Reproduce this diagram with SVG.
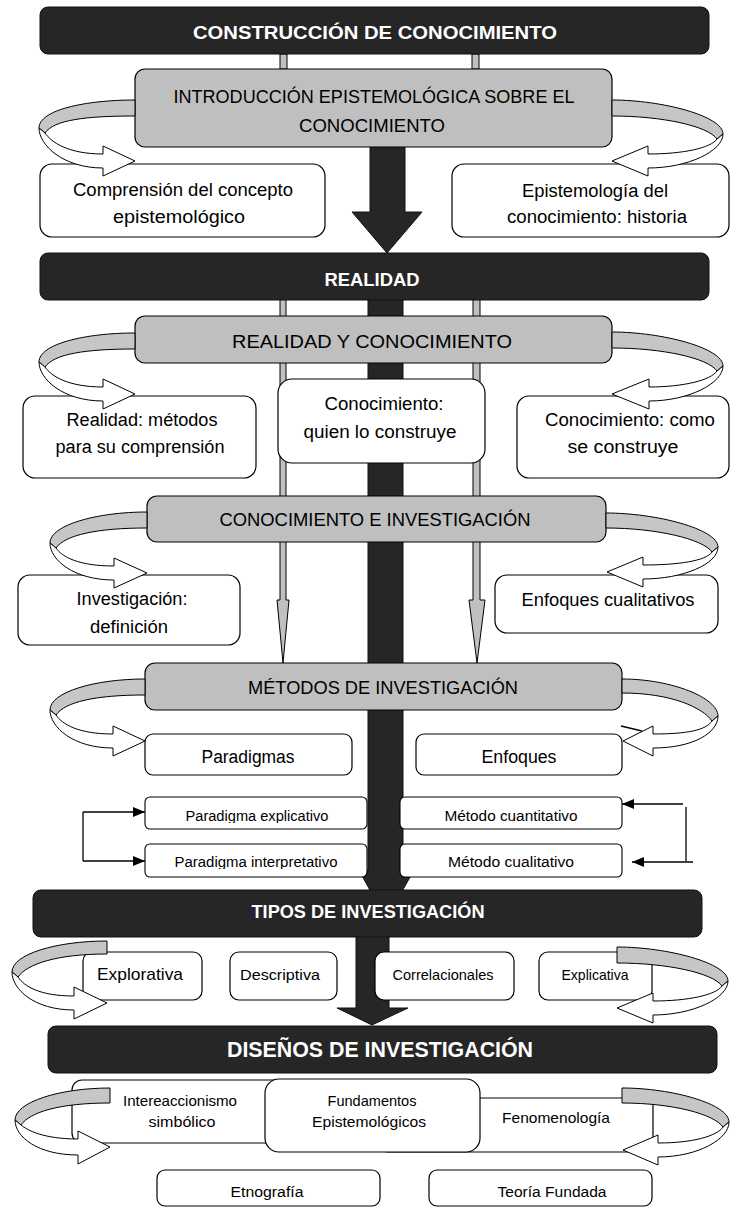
<svg xmlns="http://www.w3.org/2000/svg" width="730" height="1207" viewBox="0 0 730 1207">
<style>
.dark{fill:#262626;stroke:#111;stroke-width:1}
.gray{fill:#bfbfbf;stroke:#000;stroke-width:1.2}
.box{fill:#fff;stroke:#000;stroke-width:1.2}
.sbox{fill:#fff;stroke:#000;stroke-width:1.1}
.t{font-family:"Liberation Sans",Arial,sans-serif;fill:#000;text-anchor:middle}
.w{fill:#fff;font-weight:bold}
.rg{fill:#c6c6c6;stroke:#000;stroke-width:1}
.rw{fill:#fff;stroke:#000;stroke-width:1}
.thin{fill:#c0c0c0;stroke:#000;stroke-width:1}
.ln{stroke:#000;stroke-width:1.3;fill:none}
</style>
<defs>
<marker id="ah" markerUnits="userSpaceOnUse" markerWidth="12" markerHeight="10" refX="12" refY="5" orient="auto">
<path d="M0,0 L12,5 L0,10 Z" fill="#000"/>
</marker>
<clipPath id="c1"><rect x="145" y="797" width="222" height="26"/></clipPath>
<clipPath id="c2"><rect x="145" y="844" width="222" height="25"/></clipPath>
<clipPath id="c3"><rect x="400" y="797" width="222" height="26"/></clipPath>
<clipPath id="c4"><rect x="400" y="844" width="222" height="25"/></clipPath>
</defs>

<g id="connectors-back">
<rect class="thin" x="280" y="54" width="7" height="15"/>
<rect class="thin" x="472" y="54" width="7" height="15"/>
<polygon class="dark" points="370,140 405,140 405,212 422,212 387,253 352,212 370,212"/>
<polygon class="dark" points="368,295 403,295 403,870 414,870 386,920 359,870 368,870"/>
<polygon class="dark" points="356,930 389,930 389,1008 408,1008 372,1025 337,1008 356,1008"/>
<polygon class="thin" points="280,295 286,295 286,600 289,600 283,663 277,600 280,600"/>
<polygon class="thin" points="473,295 480,295 480,600 485,600 477,663 469,600 473,600"/>
</g>

<g id="n-construccion"><rect class="dark" x="40" y="7" width="669" height="47" rx="8"/>
<text class="t w" x="375" y="39" font-size="19" textLength="364" lengthAdjust="spacingAndGlyphs">CONSTRUCCIÓN DE CONOCIMIENTO</text></g>

<g id="n-intro"><rect class="gray" x="135" y="69" width="477" height="78" rx="10"/>
<text class="t" x="374" y="103" font-size="18" textLength="401" lengthAdjust="spacingAndGlyphs">INTRODUCCIÓN EPISTEMOLÓGICA SOBRE EL</text>
<text class="t" x="372" y="132" font-size="18" textLength="146" lengthAdjust="spacingAndGlyphs">CONOCIMIENTO</text></g>

<g id="n-comprension"><rect class="box" x="40" y="164" width="285" height="73" rx="12"/>
<text class="t" x="183" y="196" font-size="18" textLength="220" lengthAdjust="spacingAndGlyphs">Comprensión del concepto</text>
<text class="t" x="179" y="223" font-size="18" textLength="132" lengthAdjust="spacingAndGlyphs">epistemológico</text></g>

<g id="n-epistemologia"><rect class="box" x="452" y="164" width="277" height="73" rx="12"/>
<text class="t" x="595" y="197" font-size="18" textLength="146" lengthAdjust="spacingAndGlyphs">Epistemología del</text>
<text class="t" x="597" y="223" font-size="18" textLength="180" lengthAdjust="spacingAndGlyphs">conocimiento: historia</text></g>

<g id="n-realidad"><rect class="dark" x="40" y="253" width="669" height="47" rx="8"/>
<text class="t w" x="372" y="286" font-size="18" textLength="95" lengthAdjust="spacingAndGlyphs">REALIDAD</text></g>

<g id="n-realidad-conocimiento"><rect class="gray" x="135" y="316" width="477" height="47" rx="10"/>
<text class="t" x="372" y="348" font-size="18" textLength="280" lengthAdjust="spacingAndGlyphs">REALIDAD Y CONOCIMIENTO</text></g>

<g id="n-realidad-metodos"><rect class="box" x="23" y="396" width="233" height="82" rx="12"/>
<text class="t" x="142" y="426" font-size="18" textLength="151" lengthAdjust="spacingAndGlyphs">Realidad: métodos</text>
<text class="t" x="140" y="453" font-size="18" textLength="169" lengthAdjust="spacingAndGlyphs">para su comprensión</text></g>

<g id="n-conocimiento-quien"><rect class="box" x="278" y="379" width="207" height="84" rx="14"/>
<text class="t" x="384" y="410" font-size="18" textLength="119" lengthAdjust="spacingAndGlyphs">Conocimiento:</text>
<text class="t" x="380" y="438" font-size="18" textLength="153" lengthAdjust="spacingAndGlyphs">quien lo construye</text></g>

<g id="n-conocimiento-como"><rect class="box" x="517" y="396" width="212" height="82" rx="12"/>
<text class="t" x="630" y="426" font-size="18" textLength="170" lengthAdjust="spacingAndGlyphs">Conocimiento: como</text>
<text class="t" x="623" y="453" font-size="18" textLength="111" lengthAdjust="spacingAndGlyphs">se construye</text></g>

<g id="n-conocimiento-investigacion"><rect class="gray" x="147" y="496" width="459" height="46" rx="10"/>
<text class="t" x="375" y="526" font-size="18" textLength="311" lengthAdjust="spacingAndGlyphs">CONOCIMIENTO E INVESTIGACIÓN</text></g>

<g id="n-investigacion-definicion"><rect class="box" x="18" y="575" width="222" height="70" rx="12"/>
<text class="t" x="132" y="605" font-size="18" textLength="111" lengthAdjust="spacingAndGlyphs">Investigación:</text>
<text class="t" x="129" y="633" font-size="18" textLength="78" lengthAdjust="spacingAndGlyphs">definición</text></g>

<g id="n-enfoques-cualitativos"><rect class="box" x="495" y="575" width="223" height="58" rx="12"/>
<text class="t" x="608" y="606" font-size="18" textLength="173" lengthAdjust="spacingAndGlyphs">Enfoques cualitativos</text></g>

<g id="n-metodos"><rect class="gray" x="145" y="663" width="477" height="47" rx="10"/>
<text class="t" x="383" y="694" font-size="18" textLength="270" lengthAdjust="spacingAndGlyphs">MÉTODOS DE INVESTIGACIÓN</text></g>

<g id="n-paradigmas"><rect class="box" x="145" y="734" width="207" height="41" rx="8"/>
<text class="t" x="248" y="763" font-size="18" textLength="93" lengthAdjust="spacingAndGlyphs">Paradigmas</text></g>

<g id="n-enfoques"><rect class="box" x="416" y="734" width="206" height="41" rx="8"/>
<text class="t" x="519" y="763" font-size="18" textLength="75" lengthAdjust="spacingAndGlyphs">Enfoques</text></g>

<g id="n-paradigma-explicativo"><rect class="sbox" x="145" y="797" width="222" height="32" rx="5"/>
<text class="t" x="257" y="821" font-size="14" textLength="143" lengthAdjust="spacingAndGlyphs" clip-path="url(#c1)">Paradigma explicativo</text></g>

<g id="n-paradigma-interpretativo"><rect class="sbox" x="145" y="844" width="222" height="33" rx="5"/>
<text class="t" x="256" y="867" font-size="14" textLength="163" lengthAdjust="spacingAndGlyphs" clip-path="url(#c2)">Paradigma interpretativo</text></g>

<g id="n-metodo-cuantitativo"><rect class="sbox" x="400" y="797" width="222" height="32" rx="5"/>
<text class="t" x="511" y="821" font-size="14" textLength="133" lengthAdjust="spacingAndGlyphs" clip-path="url(#c3)">Método cuantitativo</text></g>

<g id="n-metodo-cualitativo"><rect class="sbox" x="400" y="844" width="222" height="33" rx="5"/>
<text class="t" x="511" y="867" font-size="14" textLength="126" lengthAdjust="spacingAndGlyphs" clip-path="url(#c4)">Método cualitativo</text></g>

<g id="n-tipos"><rect class="dark" x="33" y="890" width="669" height="47" rx="8"/>
<text class="t w" x="368" y="918" font-size="18" textLength="233" lengthAdjust="spacingAndGlyphs">TIPOS DE INVESTIGACIÓN</text></g>

<g id="n-explorativa"><rect class="box" x="83" y="952" width="119" height="48" rx="9"/>
<text class="t" x="140" y="980" font-size="17" textLength="86" lengthAdjust="spacingAndGlyphs">Explorativa</text></g>

<g id="n-descriptiva"><rect class="box" x="230" y="952" width="107" height="48" rx="9"/>
<text class="t" x="280" y="980" font-size="15.5" textLength="80" lengthAdjust="spacingAndGlyphs">Descriptiva</text></g>

<g id="n-correlacionales"><rect class="box" x="375" y="952" width="139" height="48" rx="9"/>
<text class="t" x="443" y="980" font-size="15" textLength="101" lengthAdjust="spacingAndGlyphs">Correlacionales</text></g>

<g id="n-explicativa"><rect class="box" x="539" y="952" width="113" height="48" rx="9"/>
<text class="t" x="595" y="980" font-size="14.5" textLength="67" lengthAdjust="spacingAndGlyphs">Explicativa</text></g>

<g id="n-disenos"><rect class="dark" x="48" y="1026" width="669" height="47" rx="8"/>
<text class="t w" x="380" y="1057" font-size="22" textLength="306" lengthAdjust="spacingAndGlyphs">DISEÑOS DE INVESTIGACIÓN</text></g>

<g id="n-intereaccionismo"><rect class="box" x="72" y="1080" width="330" height="63" rx="10"/>
<text class="t" x="180" y="1106" font-size="15" textLength="114" lengthAdjust="spacingAndGlyphs">Intereaccionismo</text>
<text class="t" x="182" y="1127" font-size="15" textLength="67" lengthAdjust="spacingAndGlyphs">simbólico</text></g>

<g id="n-fenomenologia"><rect class="box" x="380" y="1098" width="273" height="54" rx="8"/>
<text class="t" x="556" y="1123" font-size="15" textLength="108" lengthAdjust="spacingAndGlyphs">Fenomenología</text></g>

<g id="n-fundamentos"><rect class="box" x="265" y="1079" width="215" height="73" rx="14"/>
<text class="t" x="372" y="1106" font-size="15" textLength="89" lengthAdjust="spacingAndGlyphs">Fundamentos</text>
<text class="t" x="369" y="1127" font-size="15" textLength="114" lengthAdjust="spacingAndGlyphs">Epistemológicos</text></g>

<g id="n-etnografia"><rect class="box" x="157" y="1170" width="223" height="36" rx="8"/>
<text class="t" x="267" y="1197" font-size="15.5" textLength="73" lengthAdjust="spacingAndGlyphs">Etnografía</text></g>

<g id="n-teoria-fundada"><rect class="box" x="429" y="1170" width="223" height="36" rx="8"/>
<text class="t" x="552" y="1197" font-size="15.5" textLength="109" lengthAdjust="spacingAndGlyphs">Teoría Fundada</text></g>

<g id="connectors">
<path class="rg" d="M135,100 C85,100 39,110 39,128 L45,133 C54,120 85,116 135,116 Z"/>
<path class="rw" d="M39,128 C39,145 63,168 103,168 L103,176 L135,161 L103,146 L103,154 C68,154 51,142 45,133 Z"/>
<path class="rg" d="M612,100 C662,100 723,116 723,134 L717,139 C708,126 662,116 612,116 Z"/>
<path class="rw" d="M723,134 C723,151 688,168 648,168 L648,176 L612,161 L648,146 L648,154 C683,154 711,148 717,139 Z"/>

<path class="rg" d="M135,333 C85,333 39,344 39,362 L45,367 C54,354 85,349 135,349 Z"/>
<path class="rw" d="M39,362 C39,379 63,401 103,401 L103,409 L135,394 L103,379 L103,387 C68,387 51,376 45,367 Z"/>
<path class="rg" d="M612,332 C662,332 723,348 723,366 L717,371 C708,358 662,348 612,348 Z"/>
<path class="rw" d="M723,366 C723,383 689,401 649,401 L649,409 L612,394 L649,379 L649,387 C684,387 711,380 717,371 Z"/>

<path class="rg" d="M147,512 C97,512 50,525 50,543 L56,548 C65,535 97,528 147,528 Z"/>
<path class="rw" d="M50,543 C50,560 74,580 114,580 L114,588 L147,573 L114,558 L114,566 C79,566 62,557 56,548 Z"/>
<path class="rg" d="M606,513 C656,513 718,529 718,547 L712,552 C703,539 656,528 606,528 Z"/>
<path class="rw" d="M718,547 C718,564 683,579 643,579 L643,587 L607,572 L643,557 L643,565 C678,565 706,561 712,552 Z"/>

<path class="rg" d="M145,679 C95,679 50,692 50,710 L56,715 C65,702 95,695 145,695 Z"/>
<path class="rw" d="M50,710 C50,727 73,748 113,748 L113,756 L145,741 L113,726 L113,734 C78,734 62,724 56,715 Z"/>
<path class="rg" d="M622,679 C672,679 718,698 718,716 L712,721 C703,708 672,693 622,693 Z"/>
<path class="rw" d="M718,716 C718,733 693,748 653,748 L653,756 L623,741 L653,726 L653,734 C688,734 706,730 712,721 Z"/>
<path class="ln" d="M621,726 L642,731"/>

<path class="ln" d="M83,812 H145" marker-end="url(#ah)"/>
<path class="ln" d="M83,861 H145" marker-end="url(#ah)"/>
<path class="ln" d="M83,812 V861"/>
<path class="ln" d="M683,804 H622" marker-end="url(#ah)"/>
<path class="ln" d="M693,862 H632" marker-end="url(#ah)"/>
<path class="ln" d="M686,807 V861"/>

<path class="rg" d="M107,941 C57,941 12,954 12,972 L18,977 C27,964 57,954 107,954 Z"/>
<path class="rw" d="M12,972 C12,989 34,1010 74,1010 L74,1019 L107,1003 L74,987 L74,996 C39,996 24,986 18,977 Z"/>
<path class="rg" d="M617,947 C667,947 728,963 728,981 L722,986 C713,973 667,963 617,963 Z"/>
<path class="rw" d="M728,981 C728,998 693,1015 653,1015 L653,1023 L617,1008 L653,993 L653,1001 C688,1001 716,995 722,986 Z"/>

<path class="rg" d="M110,1088 C60,1088 15,1102 15,1120 L21,1125 C30,1112 60,1103 110,1103 Z"/>
<path class="rw" d="M15,1120 C15,1137 38,1155 78,1155 L78,1164 L110,1147 L78,1131 L78,1139 C43,1139 27,1130 21,1125 Z"/>
<path class="rg" d="M622,1088 C672,1088 729,1104 729,1122 L723,1127 C714,1114 672,1103 622,1103 Z"/>
<path class="rw" d="M729,1122 C729,1139 698,1157 658,1157 L658,1165 L623,1150 L658,1135 L658,1143 C693,1143 717,1136 723,1127 Z"/>
</g>
</svg>
